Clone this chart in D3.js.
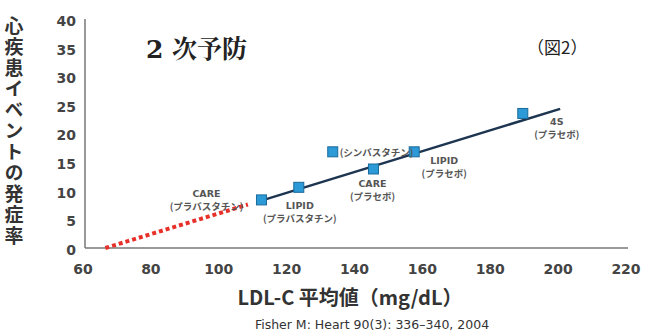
<!DOCTYPE html>
<html><head><meta charset="utf-8">
<script src="https://cdn.jsdelivr.net/npm/d3@7"></script>
<style>body{margin:0;background:#fff}svg{display:block}</style>
</head><body>
<script>
const xTicks = [60,80,100,120,140,160,180,200,220];
const yTicks = [0,5,10,15,20,25,30,35,40];
const trials = ["CARE","LIPID","","CARE","LIPID","4S"];
const arms = ["(プラバスタチン)","(プラバスタチン)","(シンバスタチン)","(プラセボ)","(プラセボ)","(プラセボ)"];
const ldl = [112,123,133,145,157,189];
const events = [8.4,10.6,16.8,13.8,16.8,23.5];
const fitX = [111,200];
const fitY = [8.1,24.3];
const extX = [66,108];
const extY = [0,7.6];

const W=645,H=335;
const svg=d3.select("body").append("svg").attr("width",W).attr("height",H);
const x=d3.scaleLinear().domain([60,220]).range([85,628]);
const y=d3.scaleLinear().domain([0,40]).range([248,19]);
const font="'DejaVu Sans','Noto Sans CJK JP',sans-serif";
const cjk="'Noto Sans CJK JP','Noto Sans',sans-serif";

svg.append("line").attr("x1",x(60)).attr("x2",x(60)).attr("y1",y(40)).attr("y2",y(0)).attr("stroke","#777").attr("stroke-width",1.5);
svg.append("line").attr("x1",x(60)).attr("x2",x(220)).attr("y1",y(0)).attr("y2",y(0)).attr("stroke","#777").attr("stroke-width",1.5);

svg.selectAll(".yt").data(yTicks).enter().append("text")
 .attr("x",76).attr("y",d=>y(d)+2).attr("dy","0.35em").attr("text-anchor","end")
 .attr("font-family",font).attr("font-weight","bold").attr("font-size",14).attr("fill","#444").text(d=>d);
svg.selectAll(".xt").data(xTicks).enter().append("text")
 .attr("x",d=>x(d)-2).attr("y",274).attr("text-anchor","middle")
 .attr("font-family",font).attr("font-weight","bold").attr("font-size",14).attr("fill","#444").text(d=>d);

svg.append("line").attr("x1",x(extX[0])).attr("y1",y(extY[0])).attr("x2",x(extX[1])).attr("y2",y(extY[1]))
 .attr("stroke","#e8302a").attr("stroke-width",4).attr("stroke-dasharray","4,3");
svg.append("line").attr("x1",x(fitX[0])).attr("y1",y(fitY[0])).attr("x2",x(fitX[1])).attr("y2",y(fitY[1]))
 .attr("stroke","#1d3550").attr("stroke-width",2.5);

const pts=ldl.map((v,i)=>({x:v,y:events[i],t:trials[i],a:arms[i]}));
svg.selectAll(".pt").data(pts).enter().append("rect")
 .attr("x",d=>x(d.x)-5).attr("y",d=>y(d.y)-5).attr("width",10).attr("height",10)
 .attr("fill","#2b9ad6").attr("stroke","#1a6a9a").attr("stroke-width",1);

const lab=[[-55,-13],[1,12],[0,0],[-1,8],[30,2],[34,2]];
pts.forEach((d,i)=>{
  const px=x(d.x), py=y(d.y);
  const g=svg.append("g").attr("font-family",cjk).attr("font-weight","bold").attr("font-size",9.5).attr("fill","#555").attr("text-anchor","middle");
  if(i===2){
    g.append("text").attr("x",px+7).attr("y",py+4).attr("text-anchor","start").text(d.a);
  } else {
    const cx=px+lab[i][0], cy=py+lab[i][1];
    g.append("text").attr("x",cx).attr("y",cy+10).attr("font-family",font).attr("font-size",9.5).text(d.t);
    g.append("text").attr("x",cx).attr("y",cy+23).text(d.a);
  }
});

svg.append("text").attr("x",146).attr("y",58).attr("font-family","'DejaVu Serif','Noto Serif CJK JP','Noto Sans CJK JP',serif")
 .attr("font-weight","bold").attr("font-size",25).attr("fill","#222").text("2 次予防");
svg.append("text").attr("x",527).attr("y",54).attr("font-family",cjk).attr("font-size",17).attr("fill","#222").text("（図2）");

svg.append("text").attr("x",14).attr("y",16)
 .attr("style","writing-mode:vertical-rl;letter-spacing:2px")
 .attr("font-family",cjk).attr("font-weight","bold").attr("font-size",19).attr("fill","#333").text("心疾患イベントの発症率");

svg.append("text").attr("x",350).attr("y",305).attr("text-anchor","middle").attr("font-family",cjk)
 .attr("font-weight","bold").attr("font-size",20).attr("fill","#333").text("LDL-C 平均値（mg/dL）");
svg.append("text").attr("x",372).attr("y",329).attr("text-anchor","middle").attr("font-family",font)
 .attr("font-size",12.5).attr("fill","#333").text("Fisher M: Heart 90(3): 336–340, 2004");
</script>
</body></html>
